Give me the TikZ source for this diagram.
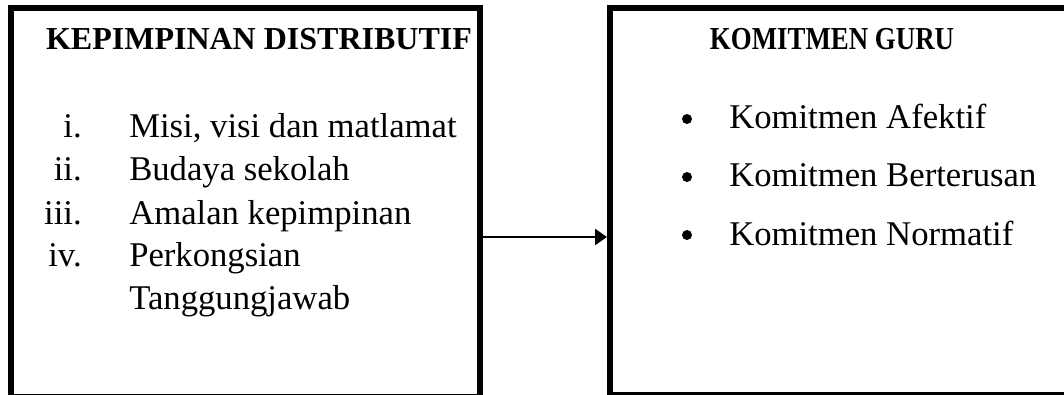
\documentclass[tikz,border=0pt]{standalone}
\usepackage{fontspec}
\usepackage{graphicx}
\setmainfont{Liberation Serif}
\usetikzlibrary{arrows.meta}
\begin{document}
\begin{tikzpicture}[x=0.75pt,y=-0.75pt,
  frame/.style={draw,line width=4.5pt,inner sep=0pt,rectangle},
  body/.style={inner sep=0pt,font=\fontsize{26pt}{30pt}\selectfont},
  heading/.style={inner sep=0pt,anchor=base,font=\fontsize{24pt}{30pt}\selectfont\bfseries},
  numeral/.style={body,anchor=base east},
  entry/.style={body,anchor=base west},
  dot/.style={circle,fill=black,inner sep=0pt,minimum size=7.5pt},
  link/.style={line width=1.9pt,-{Triangle[length=9pt,width=12pt]}}]
\useasboundingbox (0,0) rectangle (1064,394);

% the two frames
\node[frame,minimum width=351.75pt,minimum height=291.75pt] (left) at (245.5,202.5) {};
\node[frame,minimum width=351.75pt,minimum height=290.25pt] (right) at (844.5,201.5) {};

% left frame: heading and numbered list
\node[heading] (lt) at (259,49) {KEPIMPINAN DISTRIBUTIF};
\node[numeral] (n1) at (82,137) {i.};
\node[numeral] (n2) at (82,180) {ii.};
\node[numeral] (n3) at (82,224) {iii.};
\node[numeral] (n4) at (82,266) {iv.};
\node[entry] (e1) at (129,137) {Misi, visi dan matlamat};
\node[entry] (e2) at (129,180) {Budaya sekolah};
\node[entry] (e3) at (129,224) {Amalan kepimpinan};
\node[entry] (e4) at (129,266) {Perkongsian};
\node[entry] (e5) at (129,309) {Tanggungjawab};

% right frame: heading (set a little narrower) and bullet list
\node[heading] (rt) at (832,49) {\scalebox{0.84}[1]{KOMITMEN GURU}};
\node[dot] (b1) at (687,119) {};
\node[dot] (b2) at (687,177) {};
\node[dot] (b3) at (687,235) {};
\node[entry] (k1) at (729,128) {Komitmen Afektif};
\node[entry] (k2) at (729,186) {Komitmen Berterusan};
\node[entry] (k3) at (729,245) {Komitmen Normatif};

% connector between the frames
\coordinate (ay) at (0,237);
\draw[link] (left.east |- ay) -- (right.west |- ay);
\end{tikzpicture}
\end{document}
